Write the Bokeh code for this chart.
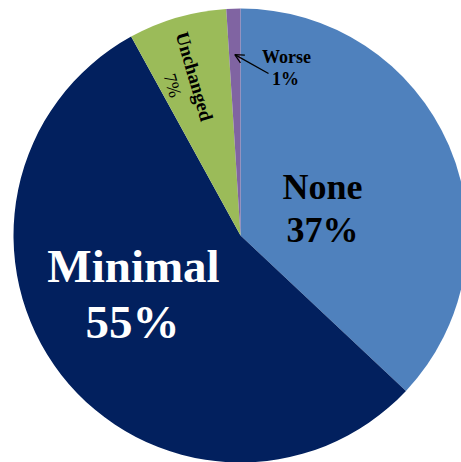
import math
from bokeh.plotting import figure
from bokeh.models import Range1d, ColumnDataSource, Arrow, OpenHead
from bokeh.core.properties import value
from bokeh.embed import file_html
from bokeh.resources import INLINE

# ---- data ----
categories = ["None", "Minimal", "Unchanged", "Worse"]
percents = [37, 55, 7, 1]
pct_labels = ["37%", "55%", "7%", "1%"]
colors = ["#4F81BD", "#02205E", "#9BBB59", "#8064A2"]

# ---- layout (px of the picture: x right, y down) ----
W, H = 461, 462
CX, CY, R = 240, 235, 227

def dy(img_y):
    return H - img_y

p = figure(width=W, height=H, output_backend="svg", toolbar_location=None,
           x_range=Range1d(0, W), y_range=Range1d(0, H),
           min_border=0)
p.axis.visible = False
p.grid.visible = False
p.outline_line_color = None
p.background_fill_color = "white"
p.border_fill_color = "white"

total = float(sum(percents))
starts, ends, mids = [], [], []
cum = 0.0
for v in percents:
    a0 = math.pi / 2 - 2 * math.pi * cum / total
    cum += v
    a1 = math.pi / 2 - 2 * math.pi * cum / total
    starts.append(a0)
    ends.append(a1)
    mids.append((a0 + a1) / 2)

src = ColumnDataSource(dict(x=[CX] * len(percents), y=[dy(CY)] * len(percents),
                            start=starts, end=ends, color=colors, cat=categories))
p.wedge(x="x", y="y", radius=R, radius_units="data", start_angle="start", end_angle="end",
        direction="clock", fill_color="color", line_color=None, source=src)

serif = value("Liberation Serif")

def label(txt, x, y, size, color="black", bold=True, angle=0.0):
    p.text(x=[x], y=[dy(y)], text=[txt], text_font=serif, text_font_size=f"{size}px",
           text_font_style="bold" if bold else "normal", text_color=color,
           text_align="center", text_baseline="middle", angle=angle)

# None
label(categories[0], 322, 186, 36)
label(pct_labels[0], 322, 229, 36)
# Minimal
label(categories[1], 133, 265, 47, color="white")
label(pct_labels[1], 132, 321, 47, color="white")
# Unchanged (rotated along slice)
ang = mids[2] - math.pi  # reading inward
label(categories[2], 194, 76, 19, angle=ang)
label(pct_labels[2], 172, 85, 18, bold=False, angle=ang)
# Worse
label(categories[3], 286, 56, 18)
label(pct_labels[3], 285, 78, 18)

# arrow to the small slice
tip_r = 181
tx = CX + tip_r * math.cos(mids[3])
ty = CY - tip_r * math.sin(mids[3])
p.add_layout(Arrow(end=OpenHead(size=9, line_width=1.3, line_color="black"),
                   x_start=268, y_start=dy(73), x_end=tx, y_end=dy(ty),
                   line_color="black", line_width=1.3))

open("out.html", "w").write(file_html(p, INLINE))
